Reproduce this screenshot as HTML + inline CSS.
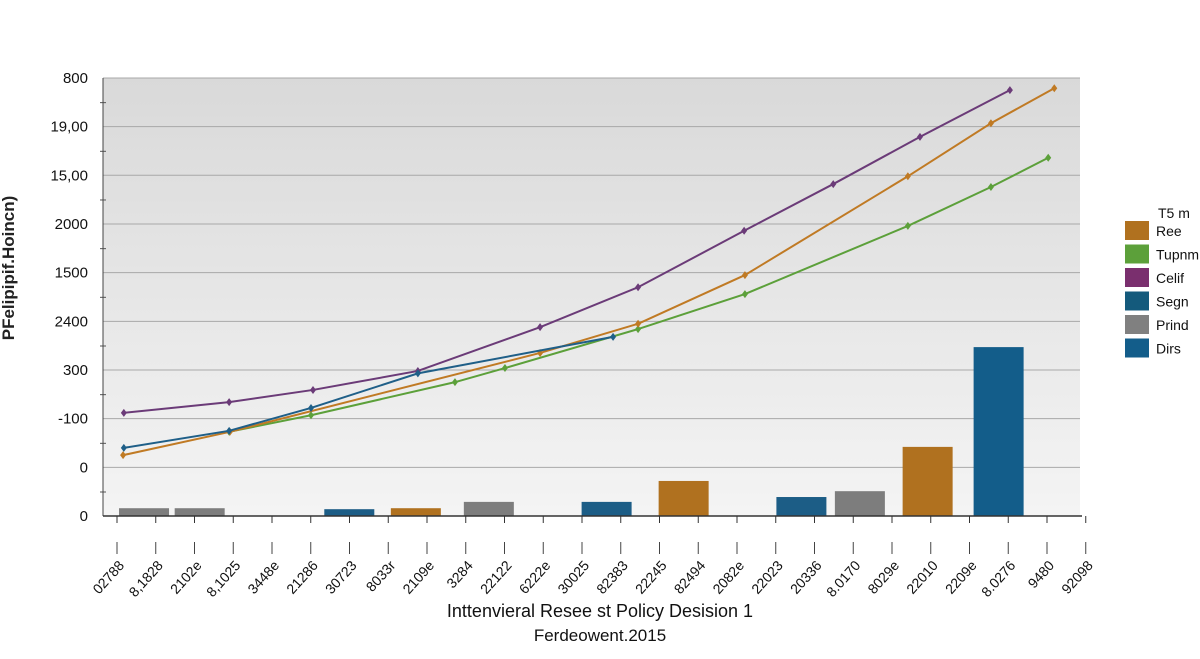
<!DOCTYPE html>
<html><head><meta charset="utf-8"><style>
body{margin:0;background:#fff;width:1200px;height:654px;overflow:hidden;font-family:"Liberation Sans",sans-serif}
</style></head><body>
<svg id="chart" width="1200" height="654" xmlns="http://www.w3.org/2000/svg">
<defs><linearGradient id="bg" x1="0" y1="0" x2="0" y2="1"><stop offset="0" stop-color="#d9d9d9"/><stop offset="1" stop-color="#f4f4f4"/></linearGradient></defs>
<rect x="103" y="78" width="977" height="438" fill="url(#bg)"/>
<g id="grid"></g><g id="bars"></g><g id="lines"></g><g id="axes"></g>
<text transform="translate(14,268) rotate(-90)" text-anchor="middle" font-size="17" font-weight="bold" fill="#222">PFelipipif.Hoincn)</text>
<text x="600" y="617" text-anchor="middle" font-size="18" fill="#111">Inttenvieral Resee st Policy Desision 1</text>
<text x="600" y="641" text-anchor="middle" font-size="17" fill="#111">Ferdeowent.2015</text>
<g id="legend"></g>
</svg>
<script>
const yTicks=["0","0","-100","300","2400","1500","2000","15,00","19,00","800"];
const xLabels=["02788","8,1828","2102e","8,1025","3448e","21286","30723","8033r","2109e","3284","22122","6222e","30025","82383","22245","82494","2082e","22023","20336","8.0170","8029e","22010","2209e","8.0276","9480","92098"];
const barX=[0.67,2.05,5.76,7.41,9.22,12.14,14.05,16.97,18.42,20.10,21.86];
const barV=[0.16,0.16,0.14,0.16,0.29,0.29,0.72,0.39,0.51,1.42,3.47];
const barC=["#7d7d7d","#7d7d7d","#1c5d86","#b0711f","#7d7d7d","#1c5d86","#b0711f","#1c5d86","#7d7d7d","#b0711f","#135d8a"];
const purpleX=[0.17,2.78,4.86,7.46,10.49,12.92,15.55,17.76,19.91,22.14];
const purpleY=[2.12,2.34,2.59,2.98,3.88,4.70,5.86,6.82,7.79,8.75];
const orangeX=[0.15,2.80,10.49,12.92,15.57,19.61,21.67,23.24];
const orangeY=[1.25,1.73,3.35,3.95,4.95,6.98,8.07,8.79];
const greenX=[2.78,4.81,8.38,9.62,12.92,15.57,19.61,21.67,23.09];
const greenY=[1.73,2.07,2.75,3.04,3.84,4.56,5.96,6.76,7.36];
const blueX=[0.17,2.78,4.81,7.46,12.3];
const blueY=[1.40,1.75,2.22,2.93,3.68];
const legendItems=[["Ree","#b0711f"],["Tupnm","#5ca03a"],["Celif","#7a2f6e"],["Segn","#145a7c"],["Prind","#808080"],["Dirs","#135d8a"]];
const NS="http://www.w3.org/2000/svg";
const sx=i=>117+i*40.33, sy=v=>516-v*48.67, lx=i=>117+i*38.75;
function mk(t,a,p){const e=document.createElementNS(NS,t);for(const k in a)e.setAttribute(k,a[k]);p.appendChild(e);return e;}
const G=document.getElementById('grid'),B=document.getElementById('bars'),L=document.getElementById('lines'),A=document.getElementById('axes'),LG=document.getElementById('legend');
yTicks.forEach((t,i)=>{const y=sy(i);
 const g=mk('line',{x1:103,x2:1080,y1:y,y2:y,stroke:'#a8a8a8','stroke-width':1},G);
 
 
 const tx=mk('text',{x:88,y:y+5,'text-anchor':'end','font-size':15,fill:'#111'},A);tx.textContent=t;
 
 
 if(i<9){mk('line',{x1:100,x2:106,y1:y-24,y2:y-24,stroke:'#555'},A);}
});
mk('line',{x1:103,x2:103,y1:78,y2:516,stroke:'#444'},A);
mk('line',{x1:103,x2:1082,y1:516,y2:516,stroke:'#333','stroke-width':1.5},A);
xLabels.forEach((t,i)=>{const x=lx(i);
 mk('line',{x1:x,x2:x,y1:516,y2:523,stroke:'#333'},A);
 mk('line',{x1:x,x2:x,y1:542,y2:554,stroke:'#444'},A);
 const tx=mk('text',{transform:`translate(${x+8},${566}) rotate(-48)`,'text-anchor':'end','font-size':14,fill:'#111'},A);tx.textContent=t;
 
 
});
barX.forEach((c,i)=>{const w=50,h=barV[i]*48.67;
 const r=mk('rect',{x:sx(c)-w/2,y:516-h,width:w,height:h,fill:barC[i]},B);
 
 
});
function line(xs,ys,col,name){
 const p=mk('polyline',{points:xs.map((x,i)=>sx(x)+','+sy(ys[i])).join(' '),fill:'none',stroke:col,'stroke-width':2},L);
 
 
 xs.forEach((x,i)=>{const cx=sx(x),cy=sy(ys[i]);
  const m=mk('polygon',{points:`${cx},${cy-4} ${cx+3},${cy} ${cx},${cy+4} ${cx-3},${cy}`,fill:col},L);
  
  });
}
line(greenX,greenY,'#5ca03a','green');
line(orangeX,orangeY,'#c07a24','orange');
line(purpleX,purpleY,'#6b3b78','purple');
line(blueX,blueY,'#1f5f88','blue');
const lt=mk('text',{x:1158,y:218,'font-size':14,fill:'#111'},LG);lt.textContent='T5 m';


legendItems.forEach((it,i)=>{const y=221+i*23.5;
 const r=mk('rect',{x:1125,y:y,width:24,height:19,fill:it[1]},LG);
 
 
 const t=mk('text',{x:1156,y:y+15,'font-size':14,fill:'#111'},LG);t.textContent=it[0];
 
 
});
</script>
</body></html>
